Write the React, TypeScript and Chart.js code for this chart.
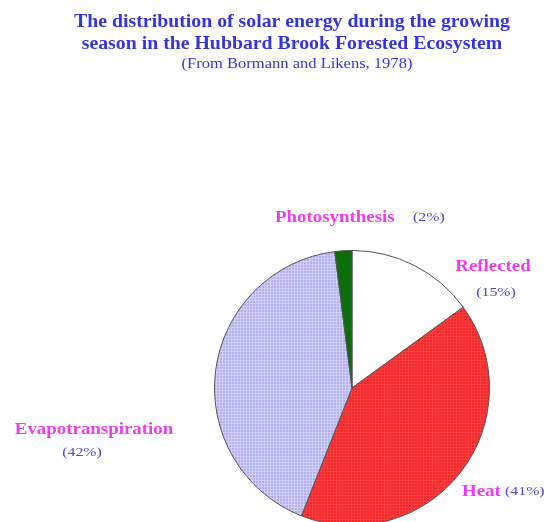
import { useEffect, useRef } from "react";
import { Chart, registerables } from "chart.js";

Chart.register(...registerables);

const categories = ["Reflected", "Heat", "Evapotranspiration", "Photosynthesis"];
const percentages = [15, 41, 42, 2];
const percentLabels = ["(15%)", "(41%)", "(42%)", "(2%)"];
const titleLines = [
  "The distribution of solar energy during the growing",
  "season in the Hubbard Brook Forested Ecosystem",
];
const subtitleText = "(From Bormann and Likens, 1978)";

function makePattern(base: string, line: string, size: number) {
  const c = document.createElement("canvas");
  c.width = size;
  c.height = size;
  const g = c.getContext("2d")!;
  g.fillStyle = base;
  g.fillRect(0, 0, size, size);
  g.fillStyle = line;
  g.fillRect(0, 0, size, 1);
  g.fillRect(0, 0, 1, size);
  const p = g.createPattern(c, "repeat");
  return p || base;
}

function drawStretched(
  ctx: CanvasRenderingContext2D,
  text: string,
  x: number,
  y: number,
  font: string,
  color: string,
  align: "left" | "center",
  sx: number
) {
  ctx.save();
  ctx.font = font;
  ctx.fillStyle = color;
  ctx.textBaseline = "middle";
  ctx.textAlign = align;
  ctx.translate(x, y);
  ctx.scale(sx, 1);
  ctx.fillText(text, 0, 0);
  ctx.restore();
}

const NAME_FONT = "bold 16px 'Liberation Serif'";
const PCT_FONT = "13px 'Liberation Serif'";
const NAME_COLOR = "#ee3cee";
const PCT_COLOR = "#4848d0";
const TITLE_COLOR = "#3535e0";

// label placement relative to pie center, in pixels
const labelLayout = [
  { name: { dx: 141, dy: -121, align: "center" }, pct: { dx: 144, dy: -95, align: "center" } },
  { name: { dx: 110, dy: 104, align: "left" }, pct: { dx: 153, dy: 104, align: "left" } },
  { name: { dx: -258, dy: 42, align: "center" }, pct: { dx: -270, dy: 65, align: "center" } },
  { name: { dx: -77, dy: -170, align: "left" }, pct: { dx: 61, dy: -170, align: "left" } },
];

const labelPlugin = {
  id: "sketchLabels",
  afterDraw(chart: any) {
    const ctx: CanvasRenderingContext2D = chart.ctx;
    drawStretched(ctx, titleLines[0], 292, 22, "bold 18px 'Liberation Serif'", TITLE_COLOR, "center", 1.1);
    drawStretched(ctx, titleLines[1], 292, 44, "bold 18px 'Liberation Serif'", TITLE_COLOR, "center", 1.1);
    drawStretched(ctx, subtitleText, 297, 64, "14px 'Liberation Serif'", TITLE_COLOR, "center", 1.18);

    const meta = chart.getDatasetMeta(0);
    meta.data.forEach((arc: any, i: number) => {
      const cx = arc.x;
      const cy = arc.y;
      const L = labelLayout[i];
      drawStretched(ctx, categories[i], cx + L.name.dx, cy + L.name.dy, NAME_FONT, NAME_COLOR, L.name.align as any, 1.18);
      drawStretched(ctx, percentLabels[i], cx + L.pct.dx, cy + L.pct.dy, PCT_FONT, PCT_COLOR, L.pct.align as any, 1.22);
    });
  },
};

export default function App() {
  const ref = useRef<HTMLCanvasElement>(null);
  useEffect(() => {
    document.documentElement.style.overflow = "hidden";
    document.body.style.overflow = "hidden";
    const blue = makePattern("#b2b2f0", "#cdcdf8", 3);
    const red = makePattern("#f42828", "#f83e3e", 3);
    const chart = new Chart(ref.current!, {
      type: "pie",
      data: {
        labels: categories,
        datasets: [
          {
            data: percentages,
            backgroundColor: ["#ffffff", red as any, blue as any, "#0b6e0b"],
            borderColor: "#555555",
            borderWidth: 1,
          },
        ],
      },
      options: {
        responsive: false,
        animation: false,
        layout: { padding: { left: 214, right: 56, top: 250, bottom: 4 } },
        plugins: {
          legend: { display: false },
          tooltip: { enabled: false },
          title: { display: false },
        },
      },
      plugins: [labelPlugin],
    });
    return () => chart.destroy();
  }, []);
  return (
    <div style={{ position: "absolute", left: 0, top: 0, width: 546, height: 530 }}>
      <canvas ref={ref} width={546} height={530} style={{ width: 546, height: 530, display: "block" }} />
    </div>
  );
}
